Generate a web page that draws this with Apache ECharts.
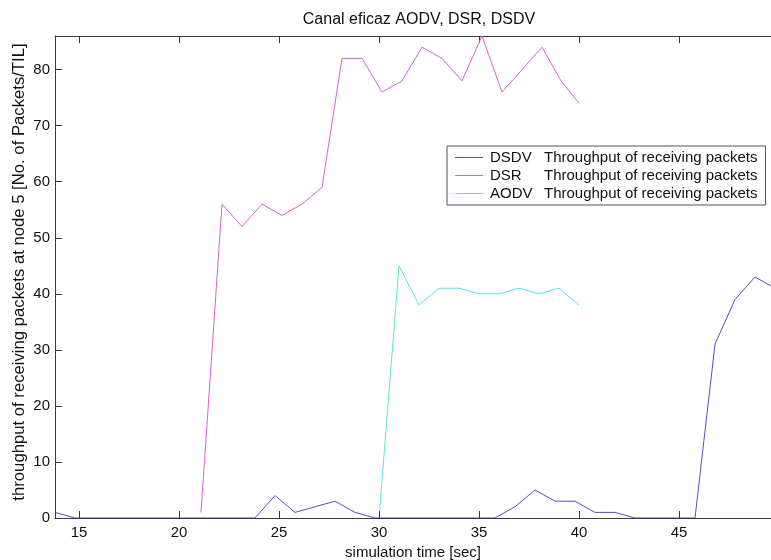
<!DOCTYPE html>
<html>
<head>
<meta charset="utf-8">
<title>Canal eficaz AODV, DSR, DSDV</title>
<script src="https://cdn.jsdelivr.net/npm/echarts@6/dist/echarts.min.js"></script>
<style>
  html, body { margin: 0; padding: 0; background: #fff; }
  #chart { width: 771px; height: 560px; }
</style>
</head>
<body>
<div id="chart"></div>
<script>
// 各协议的时间点与吞吐量
const dsdvTime = [13.8, 14.8, 15.8, 16.8, 17.8, 18.8, 19.8, 20.8, 21.8, 22.8, 23.8, 24.8, 25.8, 26.8, 27.8, 28.8, 29.8,
  30.8, 31.8, 32.8, 33.8, 34.8, 35.8, 36.8, 37.8, 38.8, 39.8, 40.8, 41.8, 42.8, 43.8, 44.8, 45.8, 46.8, 47.8, 48.8, 49.8];
const dsdvValues = [1, 0, 0, 0, 0, 0, 0, 0, 0, 0, 0, 4, 1, 2, 3, 1, 0,
  0, 0, 0, 0, 0, 0, 2, 5, 3, 3, 1, 1, 0, 0, 0, 0, 31, 39, 43, 41];

const dsrTime = [21.1, 22.15, 23.15, 24.15, 25.15, 26.15, 27.15, 28.15, 29.15, 30.15, 31.15, 32.15, 33.15, 34.15,
  35.15, 36.15, 37.15, 38.15, 39.1, 40];
const dsrValues = [1, 56, 52, 56, 54, 56, 59, 82, 82, 76, 78, 84, 82, 78, 86, 76, 80, 84, 78, 74];

const aodvTime = [30, 31, 32, 33, 34, 35, 36, 37, 38, 39, 40];
const aodvValues = [0, 45, 38, 41, 41, 40, 40, 41, 40, 41, 38];

const xTicks = [15, 20, 25, 30, 35, 40, 45];
const yTicks = [0, 10, 20, 30, 40, 50, 60, 70, 80];

const legendName = 'Throughput of receiving packets';

const font = 'Liberation Sans, Arial, sans-serif';
const axisColor = '#3a3a3a';

const chart = echarts.init(document.getElementById('chart'));

const pairs = (xs, ys) => xs.map((x, i) => [x, ys[i]]);

const makeLine = (name, xs, ys, color) => ({
  name: name,
  type: 'line',
  data: pairs(xs, ys),
  symbol: 'none',
  clip: true,
  z: 2,
  lineStyle: { color: color, width: 1 },
  itemStyle: { color: color },
  emphasis: { disabled: true },
  animation: false
});

const option = {
  backgroundColor: '#fff',
  textStyle: { fontFamily: font },
  title: {
    text: 'Canal eficaz AODV, DSR, DSDV',
    left: 414,
    textAlign: 'center',
    top: 7,
    textStyle: { fontFamily: font, fontSize: 16, fontWeight: 'normal', color: '#111' }
  },
  legend: {
    orient: 'vertical',
    left: 447,
    top: 146,
    padding: [3, 8, 3, 8],
    itemWidth: 28,
    itemHeight: 1,
    itemGap: 1,
    icon: 'rect',
    backgroundColor: '#fff',
    borderColor: '#555',
    borderWidth: 1,
    borderRadius: 0,
    data: ['DSDV', 'DSR', 'AODV'],
    formatter: name => '{n|' + name + '}{t|' + legendName + '}',
    textStyle: {
      fontFamily: font,
      fontSize: 15,
      lineHeight: 17,
      color: '#111',
      rich: {
        n: { width: 54, fontSize: 15, lineHeight: 17, fontFamily: font, padding: [0, 0, 0, 2] },
        t: { fontSize: 15, lineHeight: 17, fontFamily: font }
      }
    }
  },
  // 固定绘图区，不让 v6 因标签自动收缩
  grid: { left: 55, right: 0, top: 36, bottom: 42, outerBoundsMode: 'none' },
  xAxis: [
    {
      type: 'value',
      min: 13.8,
      max: 49.6,
      z: 3,
      name: 'simulation time [sec]',
      nameLocation: 'middle',
      nameGap: 27,
      nameMoveOverlap: false,
      nameTextStyle: { fontFamily: font, fontSize: 15, color: '#111' },
      splitLine: { show: false },
      axisLine: { onZero: false, lineStyle: { color: axisColor } },
      axisTick: { inside: true, length: 7, customValues: xTicks, lineStyle: { color: axisColor } },
      axisLabel: { customValues: xTicks, margin: 7, fontSize: 15, fontFamily: font, color: '#111' }
    },
    {
      type: 'value',
      position: 'top',
      min: 13.8,
      max: 49.6,
      splitLine: { show: false },
      axisLine: { show: true, onZero: false, lineStyle: { color: axisColor } },
      axisTick: { show: true, inside: true, length: 7, customValues: xTicks, lineStyle: { color: axisColor } },
      axisLabel: { show: false }
    }
  ],
  yAxis: {
    type: 'value',
    min: 0,
    max: 86,
    z: 3,
    name: 'throughput of receiving packets at node 5 [No. of Packets/TIL]',
    nameLocation: 'middle',
    nameGap: 27,
    nameMoveOverlap: false,
    nameTextStyle: { fontFamily: font, fontSize: 16.7, color: '#111', padding: [0, 0, 0, 10] },
    splitLine: { show: false },
    axisLine: { show: true, lineStyle: { color: axisColor } },
    axisTick: { show: true, inside: true, length: 7, customValues: yTicks, lineStyle: { color: axisColor } },
    axisLabel: { customValues: yTicks, margin: 5, fontSize: 15, fontFamily: font, color: '#111' }
  },
  series: [
    makeLine('DSDV', dsdvTime, dsdvValues, '#4f4fc4'),
    makeLine('DSR', dsrTime, dsrValues, '#d65fd6'),
    makeLine('AODV', aodvTime, aodvValues, '#5fe0e0')
  ]
};

chart.setOption(option);
</script>
</body>
</html>
